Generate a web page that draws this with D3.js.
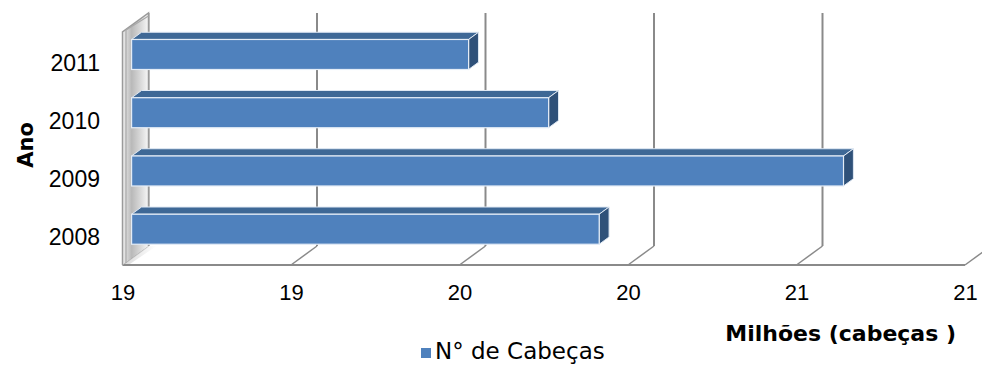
<!DOCTYPE html>
<html><head><meta charset="utf-8">
<script src="https://cdn.jsdelivr.net/npm/d3@7"></script>
<style>html,body{margin:0;padding:0;background:#fff;}svg{display:block;}</style>
</head><body>
<svg id="chart" width="982" height="365"></svg>
<script>
const categories = ["2008", "2009", "2010", "2011"];
const values = [20.11, 20.69, 19.99, 19.80];
const tickValues = [19.0, 19.4, 19.8, 20.2, 20.6, 21.0];
const tickLabels = ["19", "19", "20", "20", "21", "21"];
const seriesName = "N° de Cabeças";
const xTitle = "Milhões (cabeças )";
const yTitle = "Ano";

const svg = d3.select("#chart");
const front = {left: 122.5, right: 965, top: 32, bottom: 265};
const DX = 26, DY = -19;            // depth vector
const d0 = 0.35, d1 = 0.73;         // bar depth fractions

const x = d3.scaleLinear().domain([19, 21]).range([front.left, front.right]);
const y = d3.scaleBand().domain([...categories].reverse())
  .range([front.top, front.bottom]).paddingInner(0.485).paddingOuter(0.2425);

const defs = svg.append("defs");
const g1 = defs.append("linearGradient").attr("id", "wallGrad").attr("x1", "0").attr("x2", "1").attr("y1", "0").attr("y2", "0");
g1.append("stop").attr("offset", "0").attr("stop-color", "#efefef");
g1.append("stop").attr("offset", "0.35").attr("stop-color", "#b9b9b9");
g1.append("stop").attr("offset", "0.75").attr("stop-color", "#dedede");
g1.append("stop").attr("offset", "1").attr("stop-color", "#f7f7f7");
const g2 = defs.append("linearGradient").attr("id", "floorGrad").attr("x1", "0").attr("x2", "1").attr("y1", "0").attr("y2", "0");
g2.append("stop").attr("offset", "0").attr("stop-color", "#c8c8c8");
g2.append("stop").attr("offset", "1").attr("stop-color", "#ffffff");

const gridColor = "#8a8a8a";
const grid = svg.append("g");
tickValues.forEach(t => {
  const xf = x(t), xb = x(t) + DX;
  grid.append("line").attr("x1", xb).attr("x2", xb).attr("y1", front.top + DY).attr("y2", front.bottom + DY)
    .attr("stroke", gridColor).attr("stroke-width", 2);
  grid.append("line").attr("x1", xb).attr("y1", front.bottom + DY).attr("x2", xf).attr("y2", front.bottom)
    .attr("stroke", gridColor).attr("stroke-width", 1.5);
});
svg.append("polygon")
  .attr("points", [[x(19), front.bottom], [x(19) + DX, front.bottom + DY], [x(19) + DX + 8, front.bottom + DY], [x(19) + 6, front.bottom]].map(p => p.join(",")).join(" "))
  .attr("fill", "url(#floorGrad)").attr("opacity", 0.7);
svg.append("line").attr("x1", front.left).attr("x2", front.right).attr("y1", front.bottom).attr("y2", front.bottom)
  .attr("stroke", gridColor).attr("stroke-width", 2.2);

// left wall
const wx = x(19);
svg.append("polygon")
  .attr("points", [[wx, front.bottom], [wx, front.top], [wx + DX, front.top + DY], [wx + DX, front.bottom + DY]].map(p => p.join(",")).join(" "))
  .attr("fill", "url(#wallGrad)").attr("stroke", "none");
svg.append("path")
  .attr("d", `M${wx},${front.bottom} L${wx},${front.top} L${wx + DX},${front.top + DY} L${wx + DX},${front.bottom + DY}`)
  .attr("fill", "none").attr("stroke", "#9a9a9a").attr("stroke-width", 1.5);
svg.append("path")
  .attr("d", `M${wx + 3.5},${front.bottom - 2} L${wx + 3.5},${front.top - 2} L${wx + DX},${front.top + DY + 3}`)
  .attr("fill", "none").attr("stroke", "#a8a8a8").attr("stroke-width", 1.2);

// bars
const bars = svg.append("g");
categories.forEach((c, i) => {
  const v = values[i];
  const ox = d0 * DX, oy = d0 * DY;
  const ddx = (d1 - d0) * DX, ddy = (d1 - d0) * DY;
  const xa = x(19) + ox, xb = x(v) + ox;
  const ya = y(c) + oy, h = y.bandwidth();
  const pts = a => a.map(p => p.join(",")).join(" ");
  bars.append("polygon").attr("points", pts([[xa, ya], [xb, ya], [xb + ddx, ya + ddy], [xa + ddx, ya + ddy]]))
    .attr("fill", "#3e6896").attr("stroke", "#dfe8f3").attr("stroke-width", 1).attr("stroke-linejoin", "round");
  bars.append("polygon").attr("points", pts([[xb, ya], [xb + ddx, ya + ddy], [xb + ddx, ya + h + ddy], [xb, ya + h]]))
    .attr("fill", "#2f5179").attr("stroke", "#dfe8f3").attr("stroke-width", 1).attr("stroke-linejoin", "round");
  bars.append("rect").attr("x", xa).attr("y", ya).attr("width", xb - xa).attr("height", h)
    .attr("fill", "#4f81bd").attr("stroke", "#e4ecf6").attr("stroke-width", 1.2);
});

// axes (labels only)
const xAxis = svg.append("g").attr("transform", `translate(0,${front.bottom + 19})`)
  .call(d3.axisBottom(x).tickValues(tickValues).tickFormat((d, i) => tickLabels[i]).tickSize(0).tickPadding(0));
xAxis.select(".domain").remove();
xAxis.selectAll("text").attr("font-family", "Liberation Sans, Arial, sans-serif").attr("font-size", 22)
  .attr("fill", "#000").attr("dy", "0.71em");

const yAxis = svg.append("g").attr("transform", `translate(100,${2})`)
  .call(d3.axisLeft(y).tickSize(0).tickPadding(0));
yAxis.select(".domain").remove();
yAxis.selectAll("text").attr("font-family", "Liberation Sans, Arial, sans-serif").attr("font-size", 23).attr("fill", "#000");

// titles
svg.append("text").attr("transform", "translate(33,145) rotate(-90)").attr("text-anchor", "middle")
  .attr("font-family", "DejaVu Sans, sans-serif").attr("font-weight", "bold").attr("font-size", 21).attr("fill", "#000")
  .text(yTitle);
svg.append("text").attr("x", 956).attr("y", 341).attr("text-anchor", "end")
  .attr("font-family", "DejaVu Sans, sans-serif").attr("font-weight", "bold").attr("font-size", 22).attr("fill", "#000")
  .text(xTitle);

// legend
svg.append("rect").attr("x", 421).attr("y", 348).attr("width", 10).attr("height", 10).attr("fill", "#4f81bd");
svg.append("text").attr("x", 435).attr("y", 359)
  .attr("font-family", "DejaVu Sans, sans-serif").attr("font-size", 23).attr("fill", "#000")
  .text(seriesName);
</script>
</body></html>
